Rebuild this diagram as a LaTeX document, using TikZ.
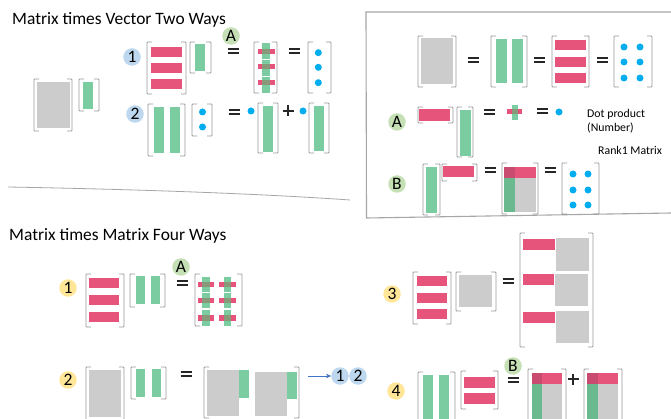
\documentclass[tikz,border=0pt]{standalone}
\usepackage{fontspec}
\setmainfont{Carlito}
\usetikzlibrary{arrows.meta}

\definecolor{redc}{HTML}{E6547B}
\definecolor{greenc}{HTML}{7BCCA0}
\definecolor{grayc}{HTML}{CCCCCC}
\definecolor{dotc}{HTML}{00AEEF}
\definecolor{bluec}{HTML}{BDD7EE}
\definecolor{greenb}{HTML}{C5E0B4}
\definecolor{yellowb}{HTML}{FFE699}
\definecolor{ovl}{HTML}{889878}
\definecolor{cornerc}{HTML}{C94B6F}
\definecolor{greend}{HTML}{6BBA8F}
\definecolor{brkc}{HTML}{9A9A9A}
\definecolor{framec}{HTML}{A6A6A6}
\definecolor{arrowc}{HTML}{4472C4}
\definecolor{inkc}{HTML}{262626}

\tikzset{
  brk/.style={draw=brkc, line width=0.9pt, rounded corners=0.8pt},
  eqs/.style={draw=inkc, line width=1.7pt},
  lab/.style={circle, minimum size=17.5pt, inner sep=0pt, text=black,
              font=\fontsize{17.5}{17.5}\selectfont},
  title/.style={anchor=base west, inner sep=0pt, font=\fontsize{17.4}{18}\selectfont},
  note/.style={anchor=base west, inner sep=0pt, font=\fontsize{11.8}{12}\selectfont},
  framel/.style={draw=framec, line width=1.1pt},
  rd/.style={fill=redc},
  gn/.style={fill=greenc},
  gy/.style={fill=grayc},
}

% matrix brackets: left x, top y, right x, bottom y
\newcommand\mbrk[4]{%
  \draw[brk] ({#1+5},#2) -- (#1,#2) -- (#1,#4) -- ({#1+5},#4);
  \draw[brk] ({#3-5},#2) -- (#3,#2) -- (#3,#4) -- ({#3-5},#4);}
% equals and plus signs centred at (x,y)
\newcommand\eqsign[2]{%
  \draw[eqs] ({#1-5.5},{#2-2}) -- ({#1+5.5},{#2-2});
  \draw[eqs] ({#1-5.5},{#2+2}) -- ({#1+5.5},{#2+2});}
\newcommand\plussign[2]{%
  \draw[eqs] ({#1-5.5},#2) -- ({#1+5.5},#2);
  \draw[eqs] (#1,{#2-5.5}) -- (#1,{#2+5.5});}
% blue entry
\newcommand\entry[2]{\fill[dotc] (#1,#2) circle (3.5pt);}
% row-times-column cell: centre x, centre y, red w, red h, green w, green top, green bottom
\newcommand\crosscell[7]{%
  \fill[redc] ({#1-#3/2},{#2-#4/2}) rectangle ({#1+#3/2},{#2+#4/2});
  \fill[greenc] ({#1-#5/2},#6) rectangle ({#1+#5/2},#7);
  \fill[ovl] ({#1-#5/2},{#2-#4/2}) rectangle ({#1+#5/2},{#2+#4/2});}
% column times row block: x1, y1, x2, y2, split x, split y
\newcommand\rankone[6]{%
  \fill[grayc] (#1,#2) rectangle (#3,#4);
  \fill[redc] (#1,#2) rectangle (#3,#6);
  \fill[greend] (#1,#6) rectangle (#5,#4);
  \fill[cornerc] (#1,#2) rectangle (#5,#6);}

\begin{document}
\begin{tikzpicture}[x=1pt, y=-1pt]
\clip (0,0) rectangle (671,419);
\fill[white] (0,0) rectangle (671,419);

% ---------------- Matrix times vector ----------------
\node[title] (t1) at (12,25) {Matrix times Vector Two Ways};

\mbrk{34}{79}{72}{131}
\fill[gy] (37,82) rectangle (70,128);
\mbrk{79}{79}{99}{111}
\fill[gn] (83,82) rectangle (93,109);

% way 1: rows
\node[lab, fill=bluec] (v1) at (132,57) {1};
\mbrk{147}{42}{186}{94}
\fill[rd] (151,47) rectangle (182,57);
\fill[rd] (151,63) rectangle (182,73);
\fill[rd] (151,79) rectangle (182,89);
\mbrk{190}{42}{211}{73}
\fill[gn] (195,44) rectangle (205,71);
\node[lab, fill=greenb] (va) at (231,36) {A};
\eqsign{233}{51}
\mbrk{254}{42}{277}{93}
\crosscell{266}{51.5}{17}{5}{8}{43}{59}
\crosscell{266}{66.5}{17}{5}{8}{60}{76}
\crosscell{266}{82.5}{17}{5}{8}{77}{93}
\eqsign{294}{51}
\mbrk{308}{42}{331}{93}
\entry{318.3}{52.7}
\entry{318.3}{67.3}
\entry{318.3}{82.7}

% way 2: columns
\node[lab, fill=bluec] (v2) at (135,114) {2};
\mbrk{148}{104}{185}{156}
\fill[gn] (154,107) rectangle (164,153);
\fill[gn] (170,107) rectangle (180,153);
\mbrk{192}{104}{212}{136}
\entry{202.5}{112}
\entry{202.5}{127}
\eqsign{234}{112}
\entry{251}{111}
\mbrk{258}{103}{278}{153}
\fill[gn] (263,106) rectangle (273,152);
\plussign{288}{111}
\entry{303}{111}
\mbrk{309}{103}{329}{153}
\fill[gn] (314,106) rectangle (324,151);

% separators
\draw[framel, line width=0.8pt] (8,187) .. controls (120,189) and (250,193) .. (350,200);
\draw[framel] (671,12) -- (366,12) -- (366.5,218) -- (671,213);

% ---------------- four views of one matrix ----------------
\mbrk{418}{36}{456}{87}
\fill[gy] (421,38) rectangle (453,84);
\eqsign{473}{60}
\mbrk{491}{36}{527}{87}
\fill[gn] (496,39) rectangle (507,83);
\fill[gn] (512,39) rectangle (523,83);
\eqsign{539}{60}
\mbrk{552}{36}{589}{87}
\fill[rd] (555,40) rectangle (586,50);
\fill[rd] (555,57) rectangle (586,67);
\fill[rd] (555,73) rectangle (586,83);
\eqsign{602}{60}
\mbrk{614}{36}{652}{87}
\foreach \px in {624,640}
  \foreach \py in {47,62,78} { \entry{\px}{\py} }

% A: dot product
\node[lab, fill=greenb] (ra) at (397,122) {A};
\mbrk{418}{107}{453}{123}
\fill[rd] (419,109) rectangle (450,121);
\mbrk{457}{107}{473}{157}
\fill[gn] (460,110) rectangle (471,156);
\eqsign{489}{112}
\crosscell{514.5}{111.5}{15}{5}{6}{105}{120}
\eqsign{542}{111}
\entry{559}{112}
\node[note] (dp) at (587,118) {Dot product};
\node[note] (nb) at (587,131.5) {(Number)};
\node[note] (r1) at (598,155) {Rank1 Matrix};

% B: rank one matrix
\node[lab, fill=greenb] (rb) at (397,184) {B};
\mbrk{423}{164}{440}{215}
\fill[gn] (426,167) rectangle (437,213);
\mbrk{442}{164}{477}{181}
\fill[rd] (443,166) rectangle (474,177);
\eqsign{490}{170}
\mbrk{502}{163}{538}{214}
\rankone{504}{167}{536}{212}{515}{178}
\eqsign{550}{170}
\mbrk{562}{163}{599}{214}
\foreach \px in {573,588}
  \foreach \py in {174,190,205} { \entry{\px}{\py} }

% ---------------- Matrix times matrix ----------------
\node[title] (t2) at (9,241) {Matrix times Matrix Four Ways};

% way 1
\node[lab, fill=yellowb] (m1) at (68,288) {1};
\mbrk{86}{274}{124}{327}
\fill[rd] (89,278) rectangle (119,288);
\fill[rd] (89,295) rectangle (119,305);
\fill[rd] (89,312) rectangle (119,322);
\mbrk{130}{274}{165}{307}
\fill[gn] (136,276) rectangle (144.5,304);
\fill[gn] (151,276) rectangle (159.5,304);
\node[lab, fill=greenb] (ma) at (181,267) {A};
\eqsign{182}{283}
\mbrk{195}{274}{242}{326}
\foreach \cx in {206,227.5} {
  \crosscell{\cx}{284.5}{16.5}{5.5}{7.5}{277}{292}
  \crosscell{\cx}{300.5}{16.5}{5.5}{7.5}{293}{308}
  \crosscell{\cx}{318}{16.5}{5.5}{7.5}{310}{326}
}

% way 2
\node[lab, fill=yellowb] (m2) at (68,380) {2};
\mbrk{86}{367}{124}{421}
\fill[gy] (89,370) rectangle (121,417);
\mbrk{131}{367}{166}{399}
\fill[gn] (136,369) rectangle (144.5,397);
\fill[gn] (152,369) rectangle (160.5,397);
\eqsign{186}{374}
\mbrk{204}{367}{299}{418}
\fill[gy] (207,370) rectangle (239,416);
\fill[gn] (239,370) rectangle (249,398);
\fill[gy] (255,372) rectangle (287,416);
\fill[gn] (287,372) rectangle (297,399);
\node[lab, fill=bluec] (w1) at (340,376) {1};
\node[lab, fill=bluec] (w2) at (358,376) {2};
\coordinate (as) at (308,376);
\draw[arrowc, line width=0.6pt, -{Stealth[length=5pt, width=4.5pt]}] (as) -- (w1.west);

% way 3
\node[lab, fill=yellowb] (m3) at (392,294) {3};
\mbrk{413}{272}{451}{324}
\fill[rd] (417,276) rectangle (447,286);
\fill[rd] (417,293) rectangle (447,303);
\fill[rd] (417,309) rectangle (447,319);
\mbrk{456}{272}{496}{311}
\fill[gy] (459,275) rectangle (492,307);
\eqsign{508}{281}
\mbrk{520}{233}{593}{347}
\fill[rd] (523,239) rectangle (555,250);
\fill[gy] (556,238) rectangle (589,271);
\fill[rd] (523,274) rectangle (554,285);
\fill[gy] (555,274) rectangle (588,306);
\fill[rd] (523,312) rectangle (555,323);
\fill[gy] (556,311) rectangle (589,343);

% way 4
\node[lab, fill=yellowb] (m4) at (396,391) {4};
\mbrk{418}{372}{455}{423}
\fill[gn] (423,375) rectangle (433,423);
\fill[gn] (439,375) rectangle (449,423);
\mbrk{461}{371}{498}{409}
\fill[rd] (464,377) rectangle (495,388);
\fill[rd] (464,393) rectangle (495,404);
\node[lab, fill=greenb] (mb) at (513,366) {B};
\eqsign{513}{380}
\mbrk{528}{369}{566}{423}
\rankone{532}{373}{562}{423}{542}{384}
\plussign{573}{379}
\mbrk{584}{369}{622}{423}
\rankone{587}{373}{618}{423}{598}{384}
\end{tikzpicture}
\end{document}
